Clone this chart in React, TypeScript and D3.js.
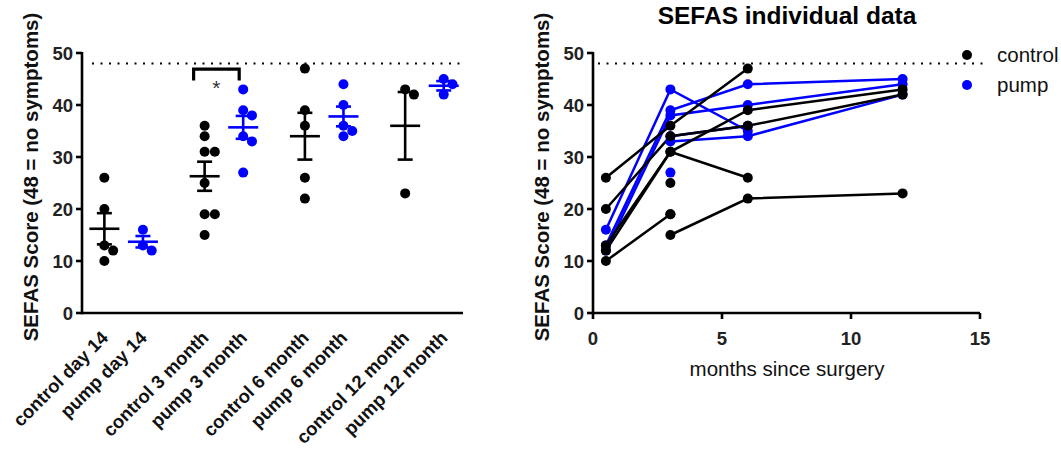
import React from "react";
import * as d3 from "d3";

// ---------- data ----------
const yTicks = [0, 10, 20, 30, 40, 50];
const xTicksRight = [0, 5, 10, 15];
const referenceScore = 48;

const categories = [
  "control day 14",
  "pump day 14",
  "control 3 month",
  "pump 3 month",
  "control 6 month",
  "pump 6 month",
  "control 12 month",
  "pump 12 month",
];
const categoryGroup = ["control", "pump", "control", "pump", "control", "pump", "control", "pump"];

const controlDay14 = [26, 20, 13, 12, 10];
const pumpDay14 = [16, 13, 12];
const control3 = [36, 34, 31, 31, 25, 19, 19, 15];
const pump3 = [43, 39, 38, 34, 33, 27];
const control6 = [47, 39, 36, 26, 22];
const pump6 = [44, 40, 36, 35, 34];
const control12 = [43, 42, 23];
const pump12 = [45, 44, 42];
const groupValues = [controlDay14, pumpDay14, control3, pump3, control6, pump6, control12, pump12];

const means = [16.2, 13.7, 26.3, 35.7, 34.0, 37.8, 36.0, 43.7];
const sems = [3.0, 1.1, 2.8, 2.2, 4.5, 1.9, 6.5, 0.9];

const months = [0.5, 3, 6, 12];
const controlSubjects: (number | null)[][] = [
  [26, 36, 47, null],
  [20, 34, 36, 42],
  [13, 31, 39, 43],
  [12, 31, 26, null],
  [10, 19, null, null],
  [null, 15, 22, 23],
  [null, 25, null, null],
  [null, 19, null, null],
];
const pumpSubjects: (number | null)[][] = [
  [16, 43, 35, null],
  [13, 39, 44, 45],
  [12, 38, 40, 44],
  [null, 33, 34, 42],
  [null, 34, 36, null],
  [null, 27, null, null],
];

const legendItems = ["control", "pump"];
const colors: Record<string, string> = { control: "#000000", pump: "#0000FF" };

// ---------- layout ----------
const W = 1061;
const H = 449;
const FONT = "'Liberation Sans', Arial, Helvetica, sans-serif";
const R = 5;

const yLeft = d3.scaleLinear().domain([0, 50]).range([313, 53]);
const slot = (i: number) => Math.floor(i / 2) * 2.6 + (i % 2);
const xLeft = d3.scaleLinear().domain([-0.58, 9.3]).range([82, 463]);

const xRight = d3.scaleLinear().domain([0, 15]).range([593, 980]);
const yRight = yLeft;

function beeswarm(values: number[], y: (v: number) => number, d: number) {
  const sorted = values.map((v, i) => ({ v, i })).sort((a, b) => b.v - a.v);
  const placed: { x: number; y: number }[] = [];
  const out: { v: number; dx: number }[] = [];
  for (const p of sorted) {
    const py = y(p.v);
    const cands = [0];
    for (const q of placed) {
      const dy = Math.abs(q.y - py);
      if (dy < d) {
        const w = Math.sqrt(d * d - dy * dy) + 0.01;
        cands.push(q.x + w, q.x - w);
      }
    }
    cands.sort((a, b) => Math.abs(a) - Math.abs(b) || b - a);
    let chosen = 0;
    for (const c of cands) {
      const ok = placed.every((q) => Math.hypot(q.x - c, q.y - py) >= d - 0.02);
      if (ok) {
        chosen = c;
        break;
      }
    }
    placed.push({ x: chosen, y: py });
    out.push({ v: p.v, dx: chosen });
  }
  return out;
}

export default function App() {
  const lineGen = d3
    .line<number | null>()
    .defined((v) => v !== null)
    .x((_, i) => xRight(months[i]))
    .y((v) => yRight(v as number));

  const axisW = 2.6;

  const renderSubjects = (subs: (number | null)[][], color: string, key: string) => (
    <g key={key}>
      {subs.map((s, si) => (
        <path key={"l" + si} d={lineGen(s) || ""} fill="none" stroke={color} strokeWidth={2.5} />
      ))}
    </g>
  );
  const renderSubjectDots = (subs: (number | null)[][], color: string, key: string) => (
    <g key={key}>
      {subs.map((s, si) =>
        s.map((v, mi) =>
          v === null ? null : (
            <circle key={si + "-" + mi} cx={xRight(months[mi])} cy={yRight(v)} r={R} fill={color} />
          )
        )
      )}
    </g>
  );

  const bx1 = xLeft(slot(2)) - 11;
  const bx2 = xLeft(slot(3)) - 4;

  return (
    <svg
      width={W}
      height={H}
      viewBox={`0 0 ${W} ${H}`}
      style={{ position: "absolute", left: 0, top: 0, background: "#fff" }}
      fontFamily={FONT}
    >
      <rect x={0} y={0} width={W} height={H} fill="#fff" />

      {/* ================= LEFT PANEL ================= */}
      <g>
        <line
          x1={92}
          x2={463}
          y1={yLeft(referenceScore)}
          y2={yLeft(referenceScore)}
          stroke="#000"
          strokeWidth={2}
          strokeDasharray="2,6.5"
        />
        <line x1={82} x2={82} y1={yLeft(50) - 1} y2={yLeft(0) + 1.3} stroke="#000" strokeWidth={axisW} />
        <line x1={82} x2={xLeft(9.3)} y1={yLeft(0)} y2={yLeft(0)} stroke="#000" strokeWidth={axisW} />
        {yTicks.map((t) => (
          <g key={t}>
            <line x1={76} x2={82} y1={yLeft(t)} y2={yLeft(t)} stroke="#000" strokeWidth={axisW} />
            <text x={73} y={yLeft(t)} dy="0.36em" textAnchor="end" fontSize={18.5} fontWeight="bold" fill="#222">
              {t}
            </text>
          </g>
        ))}
        <text
          transform={`translate(38,177) rotate(-90)`}
          textAnchor="middle"
          fontSize={20.5}
          fontWeight="bold"
          fill="#111"
        >
          SEFAS Score (48 = no symptoms)
        </text>

        {categories.map((c, i) => (
          <text
            key={c}
            transform={`translate(${xLeft(slot(i)) + 5},${339}) rotate(-45)`}
            textAnchor="end"
            fontSize={18.5}
            fontWeight="bold"
            fill="#111"
          >
            {c}
          </text>
        ))}

        {groupValues.map((vals, i) => {
          const cx = xLeft(slot(i));
          const col = colors[categoryGroup[i]];
          const sw = beeswarm(vals, yLeft, 2 * R + 0.2);
          return (
            <g key={"g" + i}>
              {sw.map((p, j) => (
                <circle key={j} cx={cx + p.dx} cy={yLeft(p.v)} r={R} fill={col} />
              ))}
              <line x1={cx} x2={cx} y1={yLeft(means[i] + sems[i])} y2={yLeft(means[i] - sems[i])} stroke={col} strokeWidth={2.6} />
              <line x1={cx - 7.5} x2={cx + 7.5} y1={yLeft(means[i] + sems[i])} y2={yLeft(means[i] + sems[i])} stroke={col} strokeWidth={2.6} />
              <line x1={cx - 7.5} x2={cx + 7.5} y1={yLeft(means[i] - sems[i])} y2={yLeft(means[i] - sems[i])} stroke={col} strokeWidth={2.6} />
              <line x1={cx - 15} x2={cx + 15} y1={yLeft(means[i])} y2={yLeft(means[i])} stroke={col} strokeWidth={2.6} />
            </g>
          );
        })}

        <path
          d={`M${bx1},${yLeft(44.7)} V${yLeft(46.9)} H${bx2} V${yLeft(44.7)}`}
          fill="none"
          stroke="#000"
          strokeWidth={3.2}
        />
        <text x={(bx1 + bx2) / 2} y={yLeft(44.4)} dy="0.62em" textAnchor="middle" fontSize={21} fill="#333">
          *
        </text>
      </g>

      {/* ================= RIGHT PANEL ================= */}
      <g>
        <text x={787} y={24} textAnchor="middle" fontSize={24.5} fontWeight="bold" fill="#000">
          SEFAS individual data
        </text>
        <line
          x1={598}
          x2={983}
          y1={yRight(referenceScore)}
          y2={yRight(referenceScore)}
          stroke="#000"
          strokeWidth={2}
          strokeDasharray="2,6.5"
        />
        <line x1={xRight(0)} x2={xRight(0)} y1={yRight(50) - 1} y2={yRight(0) + 1.3} stroke="#000" strokeWidth={axisW} />
        <line x1={xRight(0)} x2={xRight(15)} y1={yRight(0)} y2={yRight(0)} stroke="#000" strokeWidth={axisW} />
        {yTicks.map((t) => (
          <g key={t}>
            <line x1={xRight(0) - 6} x2={xRight(0)} y1={yRight(t)} y2={yRight(t)} stroke="#000" strokeWidth={axisW} />
            <text x={xRight(0) - 9} y={yRight(t)} dy="0.36em" textAnchor="end" fontSize={18.5} fontWeight="bold" fill="#222">
              {t}
            </text>
          </g>
        ))}
        {xTicksRight.map((t) => (
          <g key={t}>
            <line x1={xRight(t)} x2={xRight(t)} y1={yRight(0)} y2={yRight(0) + 6} stroke="#000" strokeWidth={axisW} />
            <text x={xRight(t)} y={yRight(0) + 32} textAnchor="middle" fontSize={18.5} fontWeight="bold" fill="#222">
              {t}
            </text>
          </g>
        ))}
        <text x={787} y={376} textAnchor="middle" fontSize={20.5} fill="#111">
          months since surgery
        </text>
        <text
          transform={`translate(549,177) rotate(-90)`}
          textAnchor="middle"
          fontSize={20.5}
          fontWeight="bold"
          fill="#111"
        >
          SEFAS Score (48 = no symptoms)
        </text>

        {renderSubjects(pumpSubjects, colors.pump, "pl")}
        {renderSubjects(controlSubjects, colors.control, "cl")}
        {renderSubjectDots(pumpSubjects, colors.pump, "pd")}
        {renderSubjectDots(controlSubjects, colors.control, "cd")}

        {legendItems.map((it, i) => (
          <g key={it}>
            <circle cx={967} cy={55 + i * 30} r={R} fill={colors[it]} />
            <text x={997} y={55 + i * 30} dy="0.36em" fontSize={20.5} fill="#111">
              {it}
            </text>
          </g>
        ))}
      </g>
    </svg>
  );
}
